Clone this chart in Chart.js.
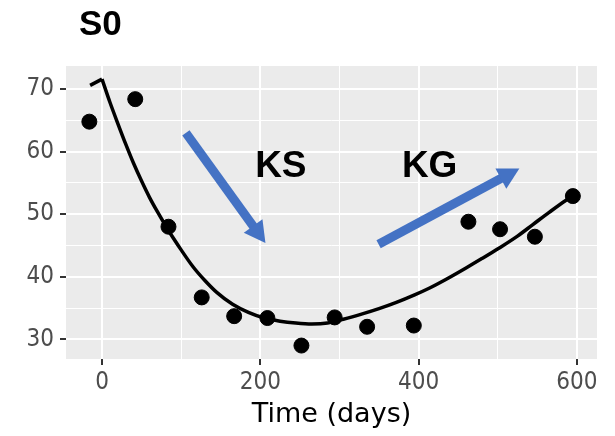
<!DOCTYPE html>
<html lang="en">
<head>
    <meta charset="UTF-8">
    <title>S0 over time</title>
    <script src="https://cdn.jsdelivr.net/npm/chart.js"></script>
    <style>
        body {
            margin: 0;
            background: #ffffff;
        }
        #wrap {
            width: 615px;
            height: 436px;
        }
    </style>
</head>
<body>
    <div id="wrap">
        <canvas id="s0Chart" width="615" height="436"></canvas>
    </div>

    <script>
        // observed values
        const obsDays = [-16, 42, 84, 126, 167, 209, 252, 294, 335, 394, 463, 503, 547, 595];
        const obsS0 = [64.8, 68.4, 48.0, 36.7, 33.7, 33.4, 29.0, 33.5, 32.0, 32.2, 48.8, 47.6, 46.4, 52.9];

        // fitted curve
        const fitDays = [-15, 0, 10, 20, 30, 40, 50, 60, 70, 84, 100, 115, 130, 145, 165, 185, 205, 225, 245, 265,
                         285, 305, 330, 350, 372, 395, 414, 435, 460, 480, 502, 525, 544, 565, 586, 595];
        const fitS0 = [70.6, 71.6, 67.9, 64.5, 61.2, 58.1, 55.3, 52.7, 50.4, 47.4, 44.3, 41.6, 39.4, 37.5, 35.6, 34.3, 33.4, 32.9, 32.6, 32.45,
                       32.6, 33.2, 34.1, 34.9, 35.9, 37.1, 38.2, 39.6, 41.4, 42.9, 44.6, 46.5, 48.3, 50.3, 52.2, 52.9];

        // arrows and labels (data coords)
        const ksArrowDays = [106, 206.5];
        const ksArrowS0 = [63.0, 45.4];
        const kgArrowDays = [349.5, 527.4];
        const kgArrowS0 = [45.2, 57.3];
        const labelText = ['KS', 'KG'];
        const labelDays = [226, 414];
        const labelS0 = [56.0, 56.0];

        // ticks
        const xMajor = [0, 200, 400, 600];
        const xMinor = [100, 300, 500];
        const yMajor = [30, 40, 50, 60, 70];
        const yMinor = [35, 45, 55, 65];

        const tickFont = { family: '"DejaVu Sans Condensed", "DejaVu Sans", sans-serif', size: 24 };

        function setTicks(vals) {
            return function (scale) {
                scale.ticks = vals.slice().sort((a, b) => a - b).map(v => ({ value: v }));
            };
        }

        function gridWidth(major) {
            return function (c) { return c.tick && major.includes(c.tick.value) ? 2 : 1; };
        }
        function tickCol(major) {
            return function (c) { return c.tick && major.includes(c.tick.value) ? '#333333' : 'rgba(0,0,0,0)'; };
        }

        // the curve has a corner at day 0: straight piece before it, smooth after
        const peakIdx = fitDays.indexOf(0);
        const fitPts = fitDays.map((d, i) => ({ x: d, y: fitS0[i] }));

        const panelPlugin = {
            id: 'panel',
            beforeDraw(chart) {
                const { ctx, chartArea: a } = chart;
                ctx.save();
                ctx.fillStyle = '#EBEBEB';
                ctx.fillRect(a.left, a.top, a.right - a.left, a.bottom - a.top);
                ctx.restore();
            },
            afterDraw(chart) {
                const ctx = chart.ctx;
                ctx.save();
                ctx.fillStyle = '#000000';
                ctx.font = 'bold 35px "Liberation Sans", Arial, sans-serif';
                ctx.textAlign = 'left';
                ctx.textBaseline = 'alphabetic';
                ctx.fillText('S0', 79, 35);
                ctx.restore();
            }
        };

        function drawArrow(ctx, x0, y0, x1, y1) {
            const ang = Math.atan2(y1 - y0, x1 - x0);
            const headLen = 21, headW = 23;
            const bx = x1 - headLen * Math.cos(ang);
            const by = y1 - headLen * Math.sin(ang);
            ctx.beginPath();
            ctx.moveTo(x0, y0);
            ctx.lineTo(bx + Math.cos(ang), by + Math.sin(ang));
            ctx.lineWidth = 9;
            ctx.lineCap = 'butt';
            ctx.stroke();
            const px = -Math.sin(ang) * headW / 2;
            const py = Math.cos(ang) * headW / 2;
            ctx.beginPath();
            ctx.moveTo(x1, y1);
            ctx.lineTo(bx + px, by + py);
            ctx.lineTo(bx - px, by - py);
            ctx.closePath();
            ctx.fill();
        }

        const annotePlugin = {
            id: 'annote',
            afterDatasetsDraw(chart) {
                const ctx = chart.ctx;
                const xs = chart.scales.x, ys = chart.scales.y;
                ctx.save();
                ctx.strokeStyle = '#4472C4';
                ctx.fillStyle = '#4472C4';
                drawArrow(ctx, xs.getPixelForValue(ksArrowDays[0]), ys.getPixelForValue(ksArrowS0[0]),
                               xs.getPixelForValue(ksArrowDays[1]), ys.getPixelForValue(ksArrowS0[1]));
                drawArrow(ctx, xs.getPixelForValue(kgArrowDays[0]), ys.getPixelForValue(kgArrowS0[0]),
                               xs.getPixelForValue(kgArrowDays[1]), ys.getPixelForValue(kgArrowS0[1]));
                ctx.fillStyle = '#000000';
                ctx.font = 'bold 37px "Liberation Sans", Arial, sans-serif';
                ctx.textAlign = 'center';
                ctx.textBaseline = 'alphabetic';
                labelText.forEach((t, i) => {
                    ctx.fillText(t, xs.getPixelForValue(labelDays[i]), ys.getPixelForValue(labelS0[i]));
                });
                ctx.restore();
            }
        };

        const ctx = document.getElementById('s0Chart').getContext('2d');
        new Chart(ctx, {
            type: 'scatter',
            data: {
                datasets: [
                    {
                        label: 'fit (before 0)',
                        data: fitPts.slice(0, peakIdx + 1),
                        showLine: true,
                        borderColor: '#000000',
                        borderWidth: 3.5,
                        borderJoinStyle: 'miter',
                        pointRadius: 0,
                        tension: 0,
                        order: 2
                    },
                    {
                        label: 'fit',
                        data: fitPts.slice(peakIdx),
                        showLine: true,
                        borderColor: '#000000',
                        borderWidth: 3.5,
                        pointRadius: 0,
                        cubicInterpolationMode: 'monotone',
                        order: 2
                    },
                    {
                        label: 'observed',
                        data: obsDays.map((d, i) => ({ x: d, y: obsS0[i] })),
                        backgroundColor: '#000000',
                        borderColor: '#000000',
                        pointRadius: 7.5,
                        order: 1
                    }
                ]
            },
            options: {
                responsive: false,
                animation: false,
                devicePixelRatio: 1,
                layout: { padding: { left: 0, right: 18, top: 66, bottom: 0 } },
                plugins: {
                    legend: { display: false },
                    tooltip: { enabled: false }
                },
                scales: {
                    x: {
                        type: 'linear',
                        min: -45.5,
                        max: 625.5,
                        afterBuildTicks: setTicks(xMajor.concat(xMinor)),
                        afterFit: function (s) { s.height = 77; },
                        border: { display: false },
                        grid: {
                            color: '#FFFFFF',
                            lineWidth: gridWidth(xMajor),
                            drawTicks: true,
                            tickLength: 6,
                            tickColor: tickCol(xMajor),
                            tickWidth: 2
                        },
                        ticks: {
                            autoSkip: false,
                            maxRotation: 0,
                            padding: 3,
                            color: '#4D4D4D',
                            font: tickFont,
                            callback: v => xMajor.includes(v) ? String(v) : ''
                        },
                        title: {
                            display: true,
                            text: 'Time (days)',
                            color: '#000000',
                            font: { family: '"DejaVu Sans", sans-serif', size: 27 },
                            padding: { top: 0, bottom: 5 }
                        }
                    },
                    y: {
                        type: 'linear',
                        min: 26.85,
                        max: 73.7,
                        afterBuildTicks: setTicks(yMajor.concat(yMinor)),
                        afterFit: function (s) { s.width = 66; },
                        border: { display: false },
                        grid: {
                            color: '#FFFFFF',
                            lineWidth: gridWidth(yMajor),
                            drawTicks: true,
                            tickLength: 6,
                            tickColor: tickCol(yMajor),
                            tickWidth: 2
                        },
                        ticks: {
                            autoSkip: false,
                            padding: 6,
                            color: '#4D4D4D',
                            font: tickFont,
                            callback: v => yMajor.includes(v) ? String(v) : ''
                        }
                    }
                }
            },
            plugins: [panelPlugin, annotePlugin]
        });
    </script>
</body>
</html>
